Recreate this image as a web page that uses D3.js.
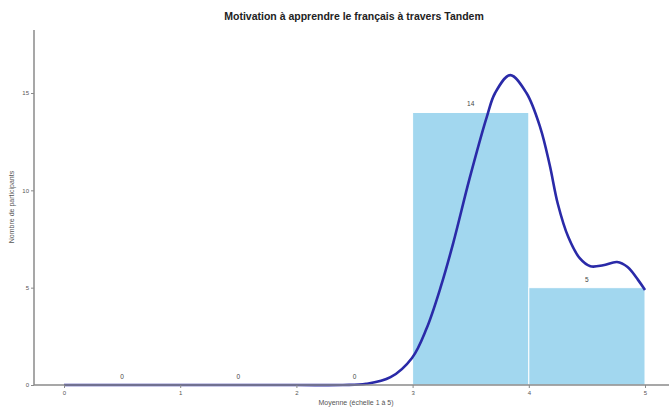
<!DOCTYPE html>
<html>
<head>
<meta charset="utf-8">
<script src="https://cdn.jsdelivr.net/npm/d3@7"></script>
<style>
  html, body { margin: 0; padding: 0; background: #fff; }
  svg { display: block; font-family: "Liberation Sans", Arial, sans-serif; }
</style>
</head>
<body>
<svg id="chart" width="669" height="410"></svg>
<script>
// Histogram bins (mean score, scale 1 to 5) and participant counts
const binStarts = [0, 1, 2, 3, 4];
const binEnds   = [1, 2, 3, 4, 5];
const counts    = [0, 0, 0, 14, 5];

// Density curve, scaled to counts
const curveX = [0, 1, 2, 2.4, 2.6, 2.81, 2.995, 3.12, 3.24, 3.35, 3.49, 3.64, 3.71, 3.84, 3.98, 4.10, 4.18, 4.25, 4.34, 4.44, 4.53, 4.64, 4.76, 4.85, 4.94, 5.0];
const curveY = [0, 0, 0, 0.0, 0.06, 0.4, 1.39, 2.9, 5.0, 7.3, 10.6, 13.8, 15.0, 15.92, 15.0, 13.2, 11.3, 9.3, 7.6, 6.5, 6.1, 6.15, 6.32, 6.06, 5.4, 4.88];

const xTicks = [0, 1, 2, 3, 4, 5];
const yTicks = [0, 5, 10, 15];

const title  = "Motivation à apprendre le français à travers Tandem";
const xTitle = "Moyenne (échelle 1 à 5)";
const yTitle = "Nombre de participants";

const svg = d3.select("#chart");

const x = d3.scaleLinear().domain([0, 5]).range([64, 645]);
const y = d3.scaleLinear().domain([0, 15]).range([385, 93]);

const axisColor = "#8a8a8a";
const textColor = "#555";

// Bars
const bins = binStarts.map((s, i) => ({ s, e: binEnds[i], c: counts[i] }));
svg.append("g").selectAll("rect")
  .data(bins.filter(d => d.c > 0))
  .join("rect")
  .attr("x", d => x(d.s))
  .attr("y", d => y(d.c))
  .attr("width", d => x(d.e) - x(d.s))
  .attr("height", d => y(0) - y(d.c))
  .attr("fill", "#a2d7ef")
  .attr("stroke", "#ffffff")
  .attr("stroke-width", 1);

// Count labels above bars
svg.append("g").selectAll("text")
  .data(bins)
  .join("text")
  .attr("x", d => x((d.s + d.e) / 2))
  .attr("y", d => y(d.c) - 6)
  .attr("text-anchor", "middle")
  .attr("font-size", 6.5)
  .attr("fill", "#444")
  .text(d => d.c);

// Density curve
const pts = curveX.map((v, i) => [v, curveY[i]]);
svg.append("path")
  .datum(pts)
  .attr("d", d3.line().x(d => x(d[0])).y(d => y(d[1])).curve(d3.curveCatmullRom.alpha(0.5)))
  .attr("fill", "none")
  .attr("stroke", "#2a2aa8")
  .attr("stroke-width", 2.6);

// Axes
const fmt = d3.format("d");
const xAxis = d3.axisBottom(x).tickValues(xTicks).tickFormat(fmt).tickSize(3).tickSizeOuter(0).tickPadding(3);
const gx = svg.append("g").attr("transform", `translate(0,${y(0)})`).call(xAxis);
gx.select(".domain").remove();
gx.selectAll(".tick line").attr("stroke", axisColor);
gx.selectAll(".tick text").attr("fill", textColor).attr("font-size", 6).attr("font-family", "Liberation Sans, Arial, sans-serif");

const yAxis = d3.axisLeft(y).tickValues(yTicks).tickFormat(fmt).tickSize(3).tickSizeOuter(0).tickPadding(2);
const gy = svg.append("g").attr("transform", "translate(34,0)").call(yAxis);
gy.select(".domain").remove();
gy.selectAll(".tick line").attr("stroke", axisColor);
gy.selectAll(".tick text").attr("fill", textColor).attr("font-size", 6).attr("font-family", "Liberation Sans, Arial, sans-serif");

// Axis lines
svg.append("line").attr("x1", 34).attr("x2", 34).attr("y1", 30).attr("y2", y(0))
  .attr("stroke", axisColor).attr("stroke-width", 1.5);
svg.append("line").attr("x1", 34).attr("x2", 669).attr("y1", y(0)).attr("y2", y(0))
  .attr("stroke", axisColor).attr("stroke-width", 1.5);

// Titles
svg.append("text")
  .attr("x", 354).attr("y", 20)
  .attr("text-anchor", "middle")
  .attr("font-size", 10.5).attr("font-weight", "bold").attr("fill", "#222")
  .text(title);

svg.append("text")
  .attr("x", 356).attr("y", 405)
  .attr("text-anchor", "middle")
  .attr("font-size", 7).attr("fill", textColor)
  .text(xTitle);

svg.append("text")
  .attr("transform", "translate(14,207) rotate(-90)")
  .attr("text-anchor", "middle")
  .attr("font-size", 7).attr("fill", textColor)
  .text(yTitle);
</script>
</body>
</html>
